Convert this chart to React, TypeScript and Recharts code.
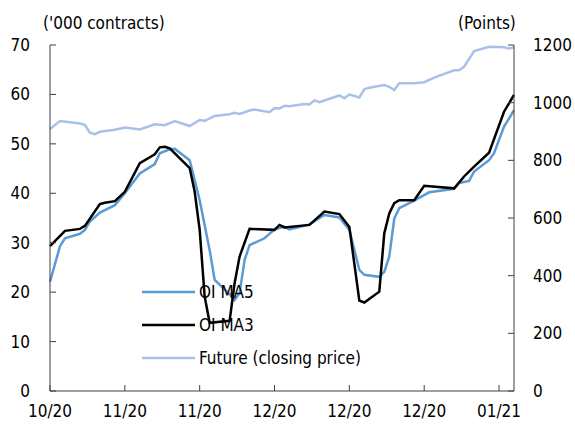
import { LineChart, Line, XAxis, YAxis } from 'recharts'

const FONT = "'DejaVu Sans Condensed', 'DejaVu Sans', sans-serif"
const AXIS_COLOR = '#404040'
const MA5_COLOR = '#5B9BD5'
const MA3_COLOR = '#000000'
const FUTURE_COLOR = '#A9C1E8'

// x is days counted from 17 Oct 2020, ticks every 15 days
const X_TICKS = [0, 15, 30, 45, 60, 75, 90]
const X_LABELS = ['10/20', '11/20', '11/20', '12/20', '12/20', '12/20', '01/21']
const LEFT_TICKS = [0, 10, 20, 30, 40, 50, 60, 70]
const RIGHT_TICKS = [0, 200, 400, 600, 800, 1000, 1200]

const SERIES_NAMES = ['OI MA5', 'OI MA3', 'Future (closing price)']
const SERIES_COLORS = [MA5_COLOR, MA3_COLOR, FUTURE_COLOR]

const MA5_DAYS = [
  0, 2, 3, 6, 7, 8, 10, 13, 15, 18, 21, 22, 24, 25, 28, 30, 32, 33, 36, 37, 38, 39, 40, 43,
  45, 47, 48, 52, 55, 58, 60, 62, 63, 66, 67, 68, 69, 70, 73, 76, 81, 82, 84, 85, 88, 89, 91, 93,
]
const MA5_VALUES = [
  22.1, 29.3, 30.9, 31.8, 32.6, 34.3, 36.1, 37.6, 40.0, 44.0, 45.9, 48.1, 48.9, 49.0, 46.7, 38.6,
  28.5, 22.5, 19.6, 18.4, 19.8, 26.5, 29.5, 30.9, 32.7, 33.2, 32.7, 33.7, 35.6, 35.1, 32.6, 24.5,
  23.5, 23.1, 24.1, 27.2, 34.9, 37.0, 38.5, 40.2, 40.9, 42.1, 42.5, 44.4, 46.7, 48.1, 53.5, 56.8,
]

const MA3_DAYS = [
  0, 3, 6, 7, 10, 11, 13, 15, 18, 21, 22, 23, 24, 28, 29, 30, 31, 32, 36, 37, 38, 40, 45, 46,
  47, 52, 55, 58, 60, 62, 63, 66, 67, 68, 69, 70, 73, 75, 81, 83, 85, 88, 91, 93,
]
const MA3_VALUES = [
  29.3, 32.4, 32.8, 33.4, 37.8, 38.1, 38.4, 40.3, 46.1, 47.9, 49.3, 49.4, 49.1, 45.1, 40.3, 32.6,
  19.1, 13.8, 14.2, 21.8, 27.2, 32.8, 32.6, 33.6, 33.1, 33.6, 36.3, 35.8, 33.2, 18.3, 17.9, 20.1,
  31.9, 35.9, 38.0, 38.6, 38.6, 41.5, 41.0, 43.4, 45.4, 48.2, 56.5, 59.9,
]

const FUTURE_DAYS = [
  0, 2, 6, 7, 8, 9, 10, 13, 15, 18, 21, 23, 25, 28, 30, 31, 33, 36, 37, 38, 40, 41, 44, 45, 46,
  47, 48, 51, 52, 53, 54, 58, 59, 60, 62, 63, 64, 67, 68, 69, 70, 73, 75, 77, 81, 82, 83, 85, 88,
  91, 92, 93,
]
const FUTURE_VALUES = [
  909, 936, 928, 922, 896, 891, 899, 906, 914, 907, 925, 922, 936, 919, 940, 937, 954, 960, 965,
  961, 973, 976, 967, 981, 980, 989, 988, 995, 994, 1008, 1002, 1025, 1015, 1028, 1018, 1046, 1052,
  1061, 1055, 1044, 1067, 1067, 1071, 1087, 1112, 1112, 1125, 1179, 1194, 1192, 1188, 1192,
]

const ma5Data = MA5_DAYS.map((day, i) => ({ day, value: MA5_VALUES[i] }))
const ma3Data = MA3_DAYS.map((day, i) => ({ day, value: MA3_VALUES[i] }))
const futureData = FUTURE_DAYS.map((day, i) => ({ day, value: FUTURE_VALUES[i] }))

const tickStyle = { fontSize: 17, fill: '#000', fontFamily: FONT }

export default function App() {
  return (
    <div style={{ position: 'absolute', left: 0, top: 0, width: 575, height: 426, background: '#fff' }}>
      <LineChart width={575} height={426} margin={{ top: 45, right: 0, bottom: 0, left: 0 }}>
        <XAxis
          dataKey="day"
          type="number"
          domain={[0, 93]}
          ticks={X_TICKS}
          tickFormatter={(v: number) => X_LABELS[X_TICKS.indexOf(v)] ?? ''}
          height={35}
          tick={tickStyle}
          tickSize={-6}
          tickMargin={20}
          axisLine={{ stroke: AXIS_COLOR }}
          tickLine={{ stroke: AXIS_COLOR }}
          allowDuplicatedCategory
        />
        <YAxis
          yAxisId="left"
          domain={[0, 70]}
          ticks={LEFT_TICKS}
          width={50}
          tick={tickStyle}
          tickSize={-6}
          tickMargin={26}
          axisLine={{ stroke: AXIS_COLOR }}
          tickLine={{ stroke: AXIS_COLOR }}
        />
        <YAxis
          yAxisId="right"
          orientation="right"
          domain={[0, 1200]}
          ticks={RIGHT_TICKS}
          width={61}
          tick={tickStyle}
          tickSize={-6}
          tickMargin={25}
          axisLine={{ stroke: AXIS_COLOR }}
          tickLine={{ stroke: AXIS_COLOR }}
        />
        <Line
          yAxisId="left"
          data={ma5Data}
          dataKey="value"
          name={SERIES_NAMES[0]}
          stroke={MA5_COLOR}
          strokeWidth={2.5}
          dot={false}
          isAnimationActive={false}
        />
        <Line
          yAxisId="left"
          data={ma3Data}
          dataKey="value"
          name={SERIES_NAMES[1]}
          stroke={MA3_COLOR}
          strokeWidth={2.5}
          dot={false}
          isAnimationActive={false}
        />
        <Line
          yAxisId="right"
          data={futureData}
          dataKey="value"
          name={SERIES_NAMES[2]}
          stroke={FUTURE_COLOR}
          strokeWidth={2.5}
          dot={false}
          isAnimationActive={false}
        />
      </LineChart>
      <svg
        width={575}
        height={426}
        style={{ position: 'absolute', left: 0, top: 0, pointerEvents: 'none' }}
      >
        <text x={43} y={28.5} fontSize={17} fontFamily={FONT} fill="#000">
          ('000 contracts)
        </text>
        <text x={458} y={28.5} fontSize={17} fontFamily={FONT} fill="#000">
          (Points)
        </text>
        {SERIES_NAMES.map((name, i) => (
          <g key={name}>
            <line
              x1={142}
              x2={195}
              y1={292 + i * 33}
              y2={292 + i * 33}
              stroke={SERIES_COLORS[i]}
              strokeWidth={2.5}
            />
            <text
              x={199}
              y={292 + i * 33}
              dominantBaseline="central"
              fontSize={17}
              fontFamily={FONT}
              fill="#000"
            >
              {name}
            </text>
          </g>
        ))}
      </svg>
    </div>
  )
}
